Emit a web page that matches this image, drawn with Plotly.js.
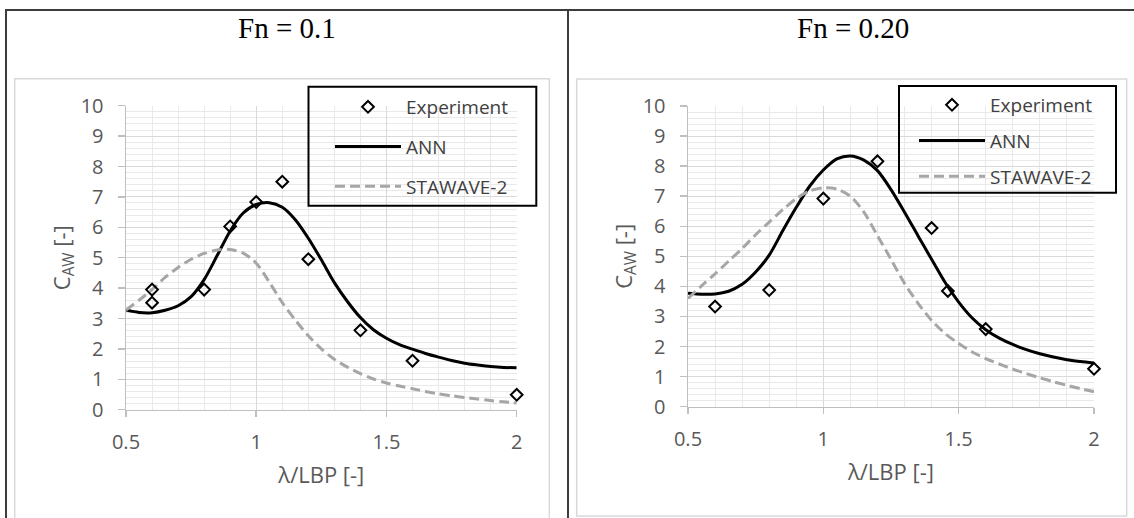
<!DOCTYPE html>
<html>
<head>
<meta charset="utf-8">
<script src="https://cdn.plot.ly/plotly-3.0.1.min.js"></script>
<style>html,body{margin:0;padding:0;background:#fff;}#chart{width:1134px;height:518px;}</style>
</head>
<body>
<div id="chart"></div>
<script>
// ---------- data ----------
const panelTitles = ["Fn = 0.1", "Fn = 0.20"];
const seriesNames = ["Experiment", "ANN", "STAWAVE-2"];
const xTitle = "λ/LBP [-]";
const yTitle = "C<sub>AW</sub> [-]";

// Fn = 0.1
const expX1 = [0.6, 0.6, 0.8, 0.9, 1.0, 1.1, 1.2, 1.4, 1.6, 2.0];
const expY1 = [3.95, 3.52, 3.95, 6.03, 6.83, 7.5, 4.95, 2.61, 1.61, 0.49];
const annX1 = [0.5, 0.55, 0.6, 0.65, 0.7, 0.75, 0.8, 0.85, 0.9, 0.95, 1.0, 1.05, 1.1, 1.15, 1.2, 1.25, 1.3, 1.35, 1.4, 1.45, 1.5, 1.55, 1.6, 1.65, 1.7, 1.75, 1.8, 1.85, 1.9, 1.95, 2.0];
const annY1 = [3.28, 3.2, 3.19, 3.27, 3.42, 3.72, 4.28, 5.07, 5.88, 6.47, 6.75, 6.81, 6.66, 6.25, 5.64, 4.93, 4.18, 3.56, 3.03, 2.63, 2.35, 2.14, 1.99, 1.85, 1.73, 1.62, 1.53, 1.47, 1.42, 1.39, 1.38];
const staX1 = [0.5, 0.55, 0.6, 0.65, 0.7, 0.75, 0.8, 0.85, 0.9, 0.95, 1.0, 1.05, 1.1, 1.15, 1.2, 1.25, 1.3, 1.35, 1.4, 1.45, 1.5, 1.55, 1.6, 1.65, 1.7, 1.75, 1.8, 1.85, 1.9, 1.95, 2.0];
const staY1 = [3.28, 3.6, 3.95, 4.35, 4.68, 4.95, 5.14, 5.25, 5.27, 5.15, 4.82, 4.2, 3.52, 2.95, 2.43, 2.0, 1.66, 1.4, 1.19, 1.01, 0.88, 0.78, 0.69, 0.6, 0.52, 0.46, 0.4, 0.35, 0.3, 0.26, 0.22];

// Fn = 0.20
const expX2 = [0.6, 0.8, 1.0, 1.2, 1.4, 1.46, 1.6, 2.0];
const expY2 = [3.33, 3.88, 6.92, 8.16, 5.94, 3.85, 2.58, 1.26];
const annX2 = [0.5, 0.55, 0.6, 0.65, 0.7, 0.75, 0.8, 0.85, 0.9, 0.95, 1.0, 1.05, 1.1, 1.15, 1.2, 1.25, 1.3, 1.35, 1.4, 1.45, 1.5, 1.55, 1.6, 1.65, 1.7, 1.75, 1.8, 1.85, 1.9, 1.95, 2.0];
const annY2 = [3.77, 3.74, 3.75, 3.84, 4.07, 4.48, 5.04, 5.85, 6.63, 7.34, 7.87, 8.24, 8.34, 8.2, 7.85, 7.22, 6.47, 5.68, 4.9, 4.13, 3.48, 2.95, 2.56, 2.28, 2.07, 1.9, 1.76, 1.65, 1.56, 1.5, 1.45];
const staX2 = [0.5, 0.55, 0.6, 0.65, 0.7, 0.75, 0.8, 0.85, 0.9, 0.95, 1.0, 1.05, 1.1, 1.15, 1.2, 1.25, 1.3, 1.35, 1.4, 1.45, 1.5, 1.55, 1.6, 1.65, 1.7, 1.75, 1.8, 1.85, 1.9, 1.95, 2.0];
const staY2 = [3.6, 4.02, 4.42, 4.84, 5.26, 5.72, 6.14, 6.55, 6.92, 7.18, 7.28, 7.24, 7.0, 6.47, 5.69, 4.9, 4.1, 3.44, 2.87, 2.43, 2.1, 1.82, 1.6, 1.42, 1.25, 1.1, 0.96, 0.83, 0.71, 0.6, 0.5];

// ---------- layout helpers ----------
const W = 1134, H = 518;
const px = v => v / W;
const py = v => 1 - v / H;

const tickFont = {family: "Open Sans, Noto Sans, sans-serif", size: 20, color: "#595959"};
const axTitleFont = {family: "Open Sans, Noto Sans, sans-serif", size: 22, color: "#595959"};
const legFont = {family: "Open Sans, Noto Sans, sans-serif", size: 19, color: "#404040"};

function traces(xa, ya, leg, eX, eY, aX, aY, sX, sY) {
  return [
    {type: "scatter", mode: "lines", x: aX, y: aY, name: seriesNames[1], xaxis: xa, yaxis: ya, legend: leg,
     legendrank: 2, legendgroup: leg + "b", line: {color: "#000000", width: 3, shape: "spline", smoothing: 0.8}, cliponaxis: false},
    {type: "scatter", mode: "lines", x: sX, y: sY, name: seriesNames[2], xaxis: xa, yaxis: ya, legend: leg,
     legendrank: 3, legendgroup: leg + "c", line: {color: "#a6a6a6", width: 3, dash: "10px,5px", shape: "spline", smoothing: 0.8}, cliponaxis: false},
    {type: "scatter", mode: "markers", x: eX, y: eY, name: seriesNames[0], xaxis: xa, yaxis: ya, legend: leg,
     legendrank: 1, legendgroup: leg + "a", marker: {symbol: "diamond-open", size: 9, color: "#000000", line: {width: 2, color: "#000000"}}, cliponaxis: false}
  ];
}

const data = [].concat(
  traces("x", "y", "legend", expX1, expY1, annX1, annY1, staX1, staY1),
  traces("x2", "y2", "legend2", expX2, expY2, annX2, annY2, staX2, staY2)
);

function xAxis(dom, anchor) {
  return {domain: dom, anchor: anchor, range: [0.5, 2], tick0: 0.5, dtick: 0.5,
    showgrid: true, gridcolor: "#d9d9d9", gridwidth: 1,
    minor: {dtick: 0.1, showgrid: true, gridcolor: "#e9e9e9", gridwidth: 1},
    showline: true, linecolor: "#bfbfbf", linewidth: 1.5, zeroline: false,
    ticks: "outside", ticklen: 6, tickwidth: 1.5, tickcolor: "#bfbfbf", tickfont: tickFont, ticklabelstandoff: 8,
    title: {text: xTitle, font: axTitleFont, standoff: 13}, fixedrange: true};
}
function yAxis(dom, anchor) {
  return {domain: dom, anchor: anchor, range: [0, 10], tick0: 0, dtick: 1,
    showgrid: true, gridcolor: "#d9d9d9", gridwidth: 1,
    minor: {dtick: 0.2, showgrid: true, gridcolor: "#e9e9e9", gridwidth: 1},
    showline: true, linecolor: "#bfbfbf", linewidth: 1.5, zeroline: false,
    ticks: "outside", ticklen: 7, tickwidth: 1.5, tickcolor: "#bfbfbf", tickfont: tickFont, ticklabelstandoff: 10,
    title: {text: yTitle, font: axTitleFont, standoff: 4}, fixedrange: true};
}

const frame = "#3c3c3c", area = "#d9d9d9";
const shapes = [
  {type: "line", xref: "paper", yref: "paper", x0: px(5), x1: px(1134), y0: py(10), y1: py(10), line: {color: frame, width: 2}},
  {type: "line", xref: "paper", yref: "paper", x0: px(6), x1: px(6), y0: py(10), y1: py(520), line: {color: frame, width: 2}},
  {type: "line", xref: "paper", yref: "paper", x0: px(568), x1: px(568), y0: py(10), y1: py(520), line: {color: frame, width: 2}},
  {type: "rect", xref: "paper", yref: "paper", x0: px(14.7), x1: px(549.3), y0: py(78.7), y1: py(530), line: {color: area, width: 1.5}},
  {type: "rect", xref: "paper", yref: "paper", x0: px(576.7), x1: px(1126.7), y0: py(79), y1: py(516), line: {color: area, width: 1.5}},
  {type: "rect", xref: "paper", yref: "paper", x0: px(308.5), x1: px(536.3), y0: py(86.7), y1: py(205.7), line: {color: "#000000", width: 2}},
  {type: "rect", xref: "paper", yref: "paper", x0: px(899), x1: px(1116), y0: py(86), y1: py(192.7), line: {color: "#000000", width: 2}}
];

const titleFont = {family: "Liberation Serif, Times New Roman, serif", size: 29, color: "#000000"};
const annotations = [
  {text: panelTitles[0], xref: "paper", yref: "paper", x: px(287), y: py(28), xanchor: "center", yanchor: "middle", showarrow: false, font: titleFont},
  {text: panelTitles[1], xref: "paper", yref: "paper", x: px(853), y: py(28), xanchor: "center", yanchor: "middle", showarrow: false, font: titleFont}
];

function legendCfg(x, y, gap) {
  return {x: x, y: y, xanchor: "left", yanchor: "top", bgcolor: "rgba(0,0,0,0)", borderwidth: 0,
    font: legFont, itemwidth: 66, tracegroupgap: gap, traceorder: "grouped", itemclick: false, itemdoubleclick: false};
}

const layout = {
  width: W, height: H, margin: {l: 0, r: 0, t: 0, b: 0},
  paper_bgcolor: "#ffffff", plot_bgcolor: "#ffffff",
  showlegend: true,
  xaxis: xAxis([px(126), px(516.7)], "y"),
  yaxis: yAxis([py(409.7), py(105.7)], "x"),
  xaxis2: xAxis([px(688), px(1094)], "y2"),
  yaxis2: yAxis([py(406.7), py(106)], "x2"),
  legend: legendCfg(px(330), py(88), 12),
  legend2: legendCfg(px(914), py(86), 8),
  shapes: shapes,
  annotations: annotations
};

Plotly.newPlot("chart", data, layout, {displayModeBar: false, staticPlot: true});
</script>
</body>
</html>
